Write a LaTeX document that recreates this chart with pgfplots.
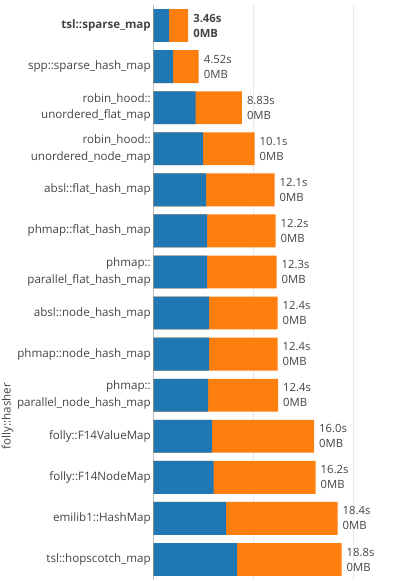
\documentclass[border=0pt]{standalone}
\usepackage{fontspec}
\setmainfont{Open Sans}
\usepackage{pgfplots}
\pgfplotsset{compat=1.18}
\definecolor{cblue}{HTML}{1F77B4}
\definecolor{corange}{HTML}{FF7F0E}
\definecolor{txt}{HTML}{444444}
\definecolor{gridc}{HTML}{E8E8E8}
\begin{document}
\begin{tikzpicture}[x=1pt,y=1pt]
\path[use as bounding box] (0,0) rectangle (395,581);
\begin{axis}[
  at={(153.5pt,1pt)}, anchor=south west,
  scale only axis, width=240.5pt, height=575pt,
  xmin=0, xmax=24.05, ymin=-0.5, ymax=13.5, y dir=reverse,
  xbar, bar width=0.8,
  axis line style={draw=none},
  xtick={10,20}, xticklabels={}, xmajorgrids, grid style={color=gridc, line width=0.8pt},
  major tick length=0,
  ytick={0,...,13},
  yticklabels={
    \textbf{tsl::sparse\_map},
    spp::sparse\_hash\_map,
    {robin\_hood::\\unordered\_flat\_map},
    {robin\_hood::\\unordered\_node\_map},
    absl::flat\_hash\_map,
    phmap::flat\_hash\_map,
    {phmap::\\parallel\_flat\_hash\_map},
    absl::node\_hash\_map,
    phmap::node\_hash\_map,
    {phmap::\\parallel\_node\_hash\_map},
    folly::F14ValueMap,
    folly::F14NodeMap,
    emilib1::HashMap,
    tsl::hopscotch\_map},
  yticklabel style={align=right, text=txt, font=\fontsize{11.6}{16.5}\selectfont, inner sep=2.5pt},
  every node near coord/.append style={align=left, text=txt, font=\fontsize{11.3}{15}\selectfont, inner sep=5pt, anchor=west},
]
% orange: total time (drawn first, full length)
\addplot[fill=corange, draw=none, bar shift=0pt, nodes near coords={\pgfplotspointmeta}, point meta=explicit symbolic] coordinates {
  (3.46,0) [\textbf{3.46s}\\\textbf{0MB}]
  (4.52,1) [4.52s\\0MB]
  (8.83,2) [8.83s\\0MB]
  (10.10,3) [10.1s\\0MB]
  (12.10,4) [12.1s\\0MB]
  (12.20,5) [12.2s\\0MB]
  (12.30,6) [12.3s\\0MB]
  (12.40,7) [12.4s\\0MB]
  (12.40,8) [12.4s\\0MB]
  (12.45,9) [12.4s\\0MB]
  (16.05,10) [16.0s\\0MB]
  (16.20,11) [16.2s\\0MB]
  (18.40,12) [18.4s\\0MB]
  (18.80,13) [18.8s\\0MB]
};
% blue: first part
\addplot[fill=cblue, draw=none, bar shift=0pt] coordinates {
  (1.55,0) (1.95,1) (4.22,2) (4.95,3) (5.25,4) (5.35,5) (5.35,6)
  (5.55,7) (5.55,8) (5.45,9) (5.85,10) (6.00,11) (7.25,12) (8.35,13)
};
\draw[color=txt, line width=0.8pt] (axis cs:0,-0.5) -- (axis cs:0,13.5);
\end{axis}
\node[rotate=90, text=txt, font=\fontsize{11.6}{15}\selectfont] at (7.5,165) {folly::hasher};
\end{tikzpicture}
\end{document}
